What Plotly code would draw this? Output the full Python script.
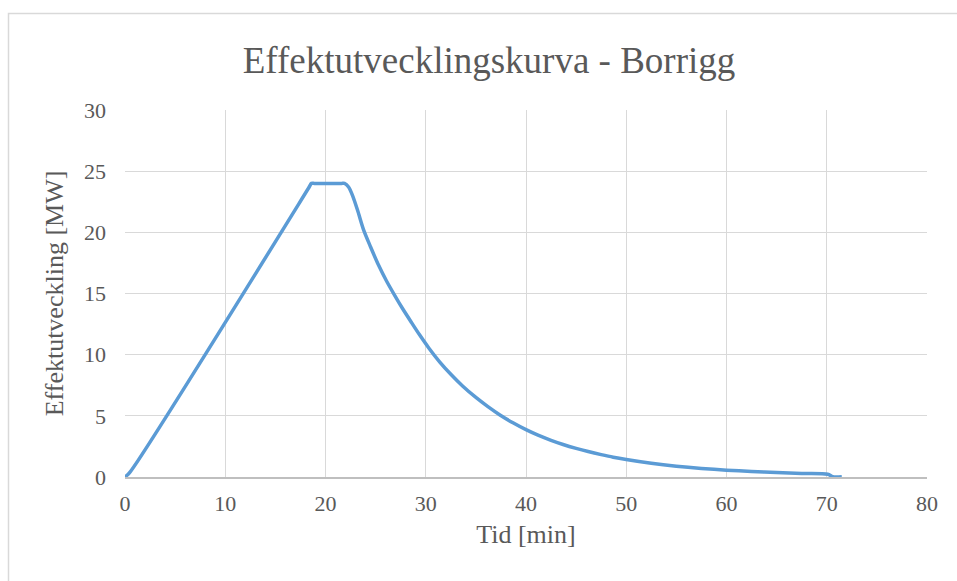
import plotly.graph_objects as go

# Effektutvecklingskurva för borrigg: tid [min] mot effekt [MW]
tid_min = [0, 0.5, 18.3, 18.6, 18.9, 21.6, 21.9, 22.3, 22.7, 23.2, 23.8, 24.5,
           25.3, 26.1, 26.9, 27.7, 28.6, 29.4, 30.3, 31.4, 32.5, 33.7, 35, 36.2,
           37.4, 38.7, 40, 41.2, 42.5, 43.7, 45, 46.2, 47.5, 48.7, 50, 52.5, 55,
           57.5, 60, 62.5, 65, 67.5, 70.1, 70.6, 71.5]
effekt_mw = [0, 0.4, 23.6, 24, 24, 24, 24, 23.7, 23.0, 21.8, 20.2, 18.8,
             17.3, 16.0, 14.85, 13.75, 12.6, 11.6, 10.55, 9.4, 8.4, 7.42, 6.5, 5.75,
             5.07, 4.43, 3.87, 3.42, 3.0, 2.66, 2.34, 2.08, 1.83, 1.62, 1.43, 1.12,
             0.88, 0.7, 0.56, 0.45, 0.36, 0.29, 0.23, 0.02, 0.02]

x_ticks = [0, 10, 20, 30, 40, 50, 60, 70, 80]
y_ticks = [0, 5, 10, 15, 20, 25, 30]

FONT = "Liberation Serif"
TEXT = "#595959"
GRID = "#d9d9d9"

fig = go.Figure()
fig.add_trace(go.Scatter(
    x=tid_min, y=effekt_mw, mode="lines",
    line=dict(color="#5b9bd5", width=3.5, shape="spline", smoothing=0.8),
    hoverinfo="x+y", showlegend=False,
))

W, H = 957, 581
L, R, T, B = 125, 30, 110, 104
pw, ph = W - L - R, H - T - B

def px_x(p):
    return (p - L) / pw

def px_y(p):
    return (H - B - p) / ph

fig.update_layout(
    width=W, height=H,
    margin=dict(l=L, r=R, t=T, b=B),
    paper_bgcolor="white", plot_bgcolor="white",
    font=dict(family=FONT, color=TEXT, size=22),
    title=dict(text="Effektutvecklingskurva - Borrigg",
               font=dict(family=FONT, size=37, color=TEXT),
               x=489 / W, xanchor="center",
               y=1 - 60 / H, yanchor="middle", yref="container"),
    xaxis=dict(range=[0, 80], tickvals=x_ticks, showgrid=True,
               gridcolor=GRID, gridwidth=1.3, zeroline=False,
               showline=True, linecolor="#bfbfbf", linewidth=1.5,
               ticks="", ticklabelstandoff=6,
               tickfont=dict(family=FONT, size=22, color=TEXT),
               title=dict(text="Tid [min]", standoff=10,
                          font=dict(family=FONT, size=26, color=TEXT))),
    yaxis=dict(range=[0, 30], tickvals=y_ticks, showgrid=True,
               gridcolor=GRID, gridwidth=1.3, zeroline=False,
               showline=False, ticks="", ticklabelstandoff=18,
               tickfont=dict(family=FONT, size=22, color=TEXT),
               title=dict(text="Effektutveckling [MW]", standoff=12,
                          font=dict(family=FONT, size=26, color=TEXT))),
    shapes=[
        # ram runt hela diagramytan
        dict(type="rect", xref="paper", yref="paper",
             x0=px_x(8.5), x1=px_x(W + 40), y0=px_y(H + 40), y1=px_y(13.5),
             line=dict(color="#d9d9d9", width=1.5), fillcolor="rgba(0,0,0,0)",
             layer="below"),
    ],
)

fig.write_html("out.html")
